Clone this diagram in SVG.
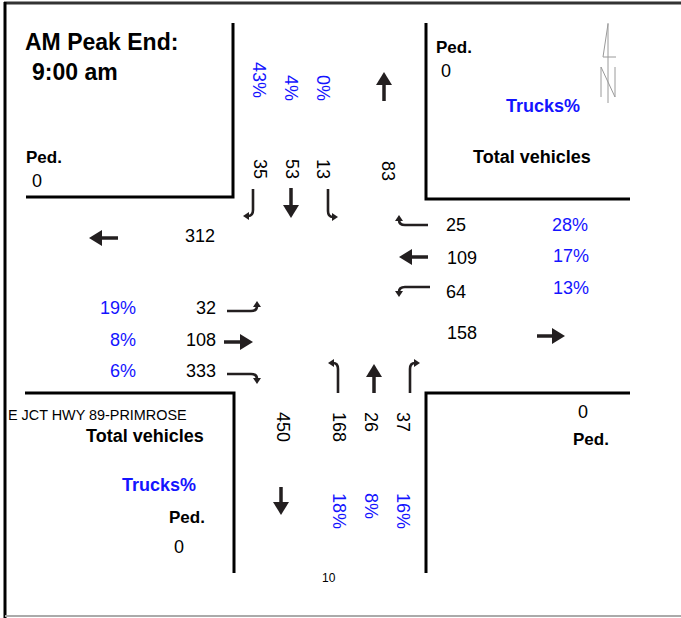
<svg xmlns="http://www.w3.org/2000/svg" width="681" height="618" viewBox="0 0 681 618">
<style>
text{font-family:"Liberation Sans",Arial,sans-serif;fill:#000}
.b{font-weight:bold}
.t{font-size:23px;font-weight:bold}
.h{font-size:18px;font-weight:bold}
.p{font-size:17px;font-weight:bold}
.n{font-size:18px}
.blue{fill:#1414ff}
.curb{fill:none;stroke:#000;stroke-width:3}
.st{fill:none;stroke:#231f20;stroke-width:3.5}
.tu{fill:none;stroke:#231f20;stroke-width:2.6}
.na{fill:none;stroke:#9a9a9a;stroke-width:1}
</style>
<defs>
<marker id="big" markerUnits="userSpaceOnUse" markerWidth="14" markerHeight="16" refX="1" refY="8" orient="auto"><path d="M0,0 L13,8 L0,16 z" fill="#231f20"/></marker>
<marker id="sm" markerUnits="userSpaceOnUse" markerWidth="8" markerHeight="8" refX="1" refY="4" orient="auto"><path d="M0,0 L6,4 L0,8 z" fill="#231f20"/></marker>
</defs>
<rect width="681" height="618" fill="#fff"/>
<g id="frame">
<line x1="4" y1="3" x2="681" y2="3" stroke="#333" stroke-width="3"/>
<line x1="5" y1="2" x2="5" y2="618" stroke="#000" stroke-width="3"/>
<line x1="5" y1="616" x2="681" y2="616" stroke="#aaa" stroke-width="2"/>
</g>
<g id="curbs">
<path class="curb" d="M26,197 H233 V23"/>
<path class="curb" d="M426,23 V199 H630"/>
<path class="curb" d="M25,393 H234 V573"/>
<path class="curb" d="M426,573 V393 H630"/>
</g>
<g id="title">
<text class="t" x="25" y="50">AM Peak End:</text>
<text class="t" x="32" y="80">9:00 am</text>
</g>
<g id="north-arrow">
<line class="na" x1="608" y1="23" x2="608" y2="103"/>
<path class="na" d="M608,24 L603,57 H616"/>
<path class="na" d="M601,97 V67 L615,97 V67"/>
</g>
<g id="nw-corner">
<text class="p" x="26" y="163">Ped.</text>
<text class="n" x="32" y="187">0</text>
</g>
<g id="ne-corner">
<text class="p" x="436" y="53">Ped.</text>
<text class="n" x="441" y="77">0</text>
<text class="h blue" x="506" y="112">Trucks%</text>
<text class="h" x="473" y="163">Total vehicles</text>
</g>
<g id="sw-corner">
<text x="8" y="420" font-size="14.4">E JCT HWY 89-PRIMROSE</text>
<text class="h" x="86" y="442">Total vehicles</text>
<text class="h blue" x="122" y="491">Trucks%</text>
<text class="p" x="169" y="523">Ped.</text>
<text class="n" x="174" y="553">0</text>
</g>
<g id="se-corner">
<text class="n" x="578" y="418">0</text>
<text class="p" x="573" y="445">Ped.</text>
</g>
<g id="north-approach">
<text class="n blue" transform="translate(253,62) rotate(90)">43%</text>
<text class="n blue" transform="translate(285,75) rotate(90)">4%</text>
<text class="n blue" transform="translate(317,75) rotate(90)">0%</text>
<text class="n" transform="translate(254,159) rotate(90)">35</text>
<text class="n" transform="translate(286,159) rotate(90)">53</text>
<text class="n" transform="translate(317,159) rotate(90)">13</text>
<text class="n" transform="translate(382,161) rotate(90)">83</text>
</g>
<g id="east-approach">
<text class="n" x="446" y="231">25</text>
<text class="n" x="447" y="264">109</text>
<text class="n" x="446" y="298">64</text>
<text class="n" x="447" y="339">158</text>
<text class="n blue" x="552" y="231">28%</text>
<text class="n blue" x="553" y="262">17%</text>
<text class="n blue" x="553" y="294">13%</text>
</g>
<g id="west-approach">
<text class="n" x="185" y="242">312</text>
<text class="n blue" x="136" y="314" text-anchor="end">19%</text>
<text class="n blue" x="136" y="346" text-anchor="end">8%</text>
<text class="n blue" x="136" y="377" text-anchor="end">6%</text>
<text class="n" x="216" y="314" text-anchor="end">32</text>
<text class="n" x="216" y="346" text-anchor="end">108</text>
<text class="n" x="216" y="377" text-anchor="end">333</text>
</g>
<g id="south-approach">
<text class="n" transform="translate(277,412) rotate(90)">450</text>
<text class="n" transform="translate(333,412) rotate(90)">168</text>
<text class="n" transform="translate(365,412) rotate(90)">26</text>
<text class="n" transform="translate(397,412) rotate(90)">37</text>
<text class="n blue" transform="translate(333,493) rotate(90)">18%</text>
<text class="n blue" transform="translate(365,493) rotate(90)">8%</text>
<text class="n blue" transform="translate(397,493) rotate(90)">16%</text>
</g>
<g id="page-number">
<text x="322" y="582" font-size="12">10</text>
</g>
<g id="connectors">
<path class="st" marker-end="url(#big)" d="M384,101 V84"/>
<path class="st" marker-end="url(#big)" d="M291,188 V206"/>
<path class="st" marker-end="url(#big)" d="M428,257 H411"/>
<path class="st" marker-end="url(#big)" d="M537,336 H553"/>
<path class="st" marker-end="url(#big)" d="M118,238 H101"/>
<path class="st" marker-end="url(#big)" d="M224,342 H241"/>
<path class="st" marker-end="url(#big)" d="M374,393 V376"/>
<path class="st" marker-end="url(#big)" d="M281,487 V503"/>
<path class="tu" marker-end="url(#sm)" d="M253,189 V210 Q253,216 248,216"/>
<path class="tu" marker-end="url(#sm)" d="M328,189 V211 Q328,217 333,217"/>
<path class="tu" marker-end="url(#sm)" d="M428,225 H405 Q399,225 399,220"/>
<path class="tu" marker-end="url(#sm)" d="M430,287 H405 Q399,287 399,292"/>
<path class="tu" marker-end="url(#sm)" d="M227,311 H251 Q257,311 257,306"/>
<path class="tu" marker-end="url(#sm)" d="M227,374 H251 Q257,374 257,379"/>
<path class="tu" marker-end="url(#sm)" d="M338,393 V369 Q338,363 333,363"/>
<path class="tu" marker-end="url(#sm)" d="M410,393 V369 Q410,363 415,363"/>
</g>
</svg>
